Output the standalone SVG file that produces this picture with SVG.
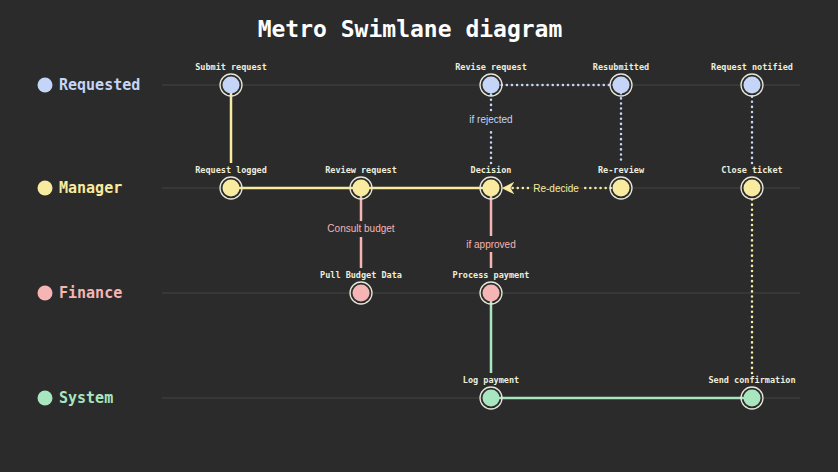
<svg xmlns="http://www.w3.org/2000/svg" width="838" height="472" viewBox="0 0 838 472">
<style>
.lane{stroke:#3c3c3c;stroke-width:1.5}
.lt{font-family:"DejaVu Sans Mono",monospace;font-weight:bold;font-size:15px}
.nl{font-family:"DejaVu Sans Mono",monospace;font-weight:bold;font-size:8.5px;fill:#eeeedd;text-anchor:middle}
.el{font-family:"Liberation Sans",Arial,sans-serif;font-size:10px;text-anchor:middle}
.ring{fill:none;stroke:#e6e6d8;stroke-width:1.3}
.s{stroke-width:2.5;fill:none}
.d{stroke-width:2.5;fill:none;stroke-dasharray:0.1 5;stroke-linecap:round}
.b{fill:#c5d5f7}.y{fill:#f8eba0}.p{fill:#f5b5b5}.g{fill:#a8e6c0}
</style>
<defs><marker id="ar" viewBox="0 0 10 10" refX="9" refY="5" markerWidth="5" markerHeight="5" orient="auto"><path d="M0,0L10,5L0,10L3,5Z" fill="#f8eba0"/></marker></defs>
<rect width="838" height="472" fill="#2b2b2b"/>
<text x="410" y="37" text-anchor="middle" font-family="DejaVu Sans Mono,monospace" font-weight="bold" font-size="23" fill="#ffffff">Metro Swimlane diagram</text>
<g id="lanes">
<line class="lane" x1="162" y1="85" x2="800" y2="85"/><line class="lane" x1="162" y1="188" x2="800" y2="188"/><line class="lane" x1="162" y1="293" x2="800" y2="293"/><line class="lane" x1="162" y1="398" x2="800" y2="398"/>
<circle cx="45" cy="85" r="7.5" class="b"/><text x="59" y="90" class="lt" fill="#c5d5f7">Requested</text>
<circle cx="45" cy="188" r="7.5" class="y"/><text x="59" y="193" class="lt" fill="#f8eba0">Manager</text>
<circle cx="45" cy="293" r="7.5" class="p"/><text x="59" y="298" class="lt" fill="#f5b5b5">Finance</text>
<circle cx="45" cy="398" r="7.5" class="g"/><text x="59" y="403" class="lt" fill="#a8e6c0">System</text>
</g>
<g id="connectors">
<path class="s" stroke="#f8eba0" d="M231,85V163"/>
<path class="s" stroke="#f8eba0" d="M231,188H491"/>
<path class="s" stroke="#f5b5b5" d="M361,188V221M361,237V268M491,188V236M491,252V268"/>
<path class="s" stroke="#a8e6c0" d="M491,293V373M491,398H752"/>
<path class="d" stroke="#c5d5f7" d="M491,163V130M491,110V85H621V163M752,163V85"/>
<path class="d" stroke="#f8eba0" d="M752,373V188"/>
<path class="d" stroke="#f8eba0" d="M621,188H585M528,188H503" marker-end="url(#ar)"/>
<text x="361" y="232" class="el" fill="#f5b5b5">Consult budget</text>
<text x="491" y="248" class="el" fill="#f5b5b5">if approved</text>
<text x="491" y="123" class="el" fill="#c5d5f7">if rejected</text>
<text x="556" y="192" class="el" fill="#f8eba0">Re-decide</text>
</g>
<g id="n1"><circle cx="231" cy="85" r="8.5" class="b"/><circle cx="231" cy="85" r="11" class="ring"/><text x="231" y="70" class="nl">Submit request</text></g>
<g id="n2"><circle cx="491" cy="85" r="8.5" class="b"/><circle cx="491" cy="85" r="11" class="ring"/><text x="491" y="70" class="nl">Revise request</text></g>
<g id="n3"><circle cx="621" cy="85" r="8.5" class="b"/><circle cx="621" cy="85" r="11" class="ring"/><text x="621" y="70" class="nl">Resubmitted</text></g>
<g id="n4"><circle cx="752" cy="85" r="8.5" class="b"/><circle cx="752" cy="85" r="11" class="ring"/><text x="752" y="70" class="nl">Request notified</text></g>
<g id="n5"><circle cx="231" cy="188" r="8.5" class="y"/><circle cx="231" cy="188" r="11" class="ring"/><text x="231" y="173" class="nl">Request logged</text></g>
<g id="n6"><circle cx="361" cy="188" r="8.5" class="y"/><circle cx="361" cy="188" r="11" class="ring"/><text x="361" y="173" class="nl">Review request</text></g>
<g id="n7"><circle cx="491" cy="188" r="8.5" class="y"/><circle cx="491" cy="188" r="11" class="ring"/><text x="491" y="173" class="nl">Decision</text></g>
<g id="n8"><circle cx="621" cy="188" r="8.5" class="y"/><circle cx="621" cy="188" r="11" class="ring"/><text x="621" y="173" class="nl">Re-review</text></g>
<g id="n9"><circle cx="752" cy="188" r="8.5" class="y"/><circle cx="752" cy="188" r="11" class="ring"/><text x="752" y="173" class="nl">Close ticket</text></g>
<g id="n10"><circle cx="361" cy="293" r="8.5" class="p"/><circle cx="361" cy="293" r="11" class="ring"/><text x="361" y="278" class="nl">Pull Budget Data</text></g>
<g id="n11"><circle cx="491" cy="293" r="8.5" class="p"/><circle cx="491" cy="293" r="11" class="ring"/><text x="491" y="278" class="nl">Process payment</text></g>
<g id="n12"><circle cx="491" cy="398" r="8.5" class="g"/><circle cx="491" cy="398" r="11" class="ring"/><text x="491" y="383" class="nl">Log payment</text></g>
<g id="n13"><circle cx="752" cy="398" r="8.5" class="g"/><circle cx="752" cy="398" r="11" class="ring"/><text x="752" y="383" class="nl">Send confirmation</text></g>
</svg>
